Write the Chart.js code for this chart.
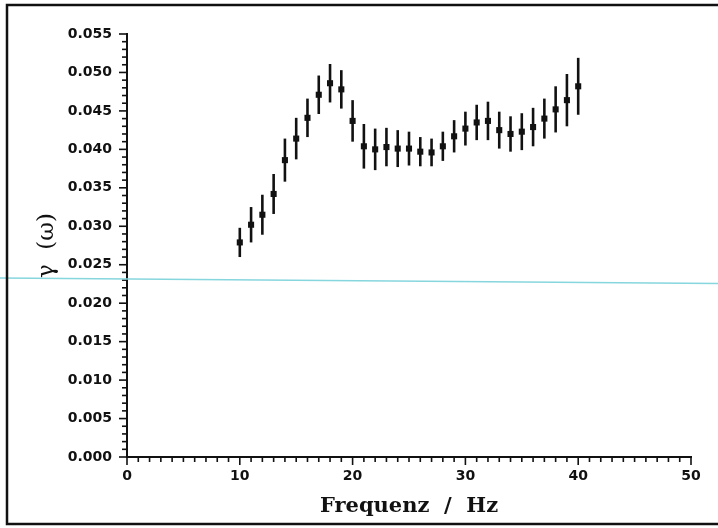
<!DOCTYPE html>
<html>
<head>
<meta charset="utf-8">
<script src="https://cdn.jsdelivr.net/npm/chart.js@4/dist/chart.umd.min.js"></script>
<style>
  html, body { margin: 0; padding: 0; background: #fff; }
  #wrap { width: 718px; height: 528px; }
</style>
</head>
<body>
<div id="wrap"><canvas id="grafico" width="718" height="528"></canvas></div>
<script>
// --- DATOS ---
const frequenz = [10, 11, 12, 13, 14, 15, 16, 17, 18, 19, 20, 21, 22, 23, 24, 25,
                  26, 27, 28, 29, 30, 31, 32, 33, 34, 35, 36, 37, 38, 39, 40];
const gamma = [0.0279, 0.0302, 0.0315, 0.0342, 0.0386, 0.0414, 0.0441, 0.0471,
               0.0486, 0.0478, 0.0437, 0.0404, 0.0400, 0.0403, 0.0401, 0.0401,
               0.0397, 0.0396, 0.0404, 0.0417, 0.0427, 0.0435, 0.0437, 0.0425,
               0.0420, 0.0423, 0.0429, 0.0440, 0.0452, 0.0464, 0.0482];
const fehler = [0.0019, 0.0023, 0.0026, 0.0026, 0.0028, 0.0027, 0.0025, 0.0025,
                0.0025, 0.0025, 0.0027, 0.0029, 0.0027, 0.0025, 0.0024, 0.0022,
                0.0019, 0.0018, 0.0019, 0.0021, 0.0022, 0.0023, 0.0025, 0.0024,
                0.0023, 0.0024, 0.0025, 0.0026, 0.0030, 0.0034, 0.0037];
const xTicks = [0, 10, 20, 30, 40, 50];
const yTicks = ['0.000', '0.005', '0.010', '0.015', '0.020', '0.025', '0.030',
                '0.035', '0.040', '0.045', '0.050', '0.055'];
// cyan line from the scan (value at left and right edge of the page)
const scanLinie = [0.02328, 0.02256];

const tickFont = { family: 'DejaVu Sans', size: 14, weight: 'bold' };

// --- PLUGIN: error bars, minor ticks, frame ---
const dekor = {
    id: 'dekor',
    beforeDraw(chart) {
        const c = chart.ctx;
        c.save();
        c.fillStyle = '#fff';
        c.fillRect(0, 0, chart.width, chart.height);
        c.restore();
    },
    beforeDatasetsDraw(chart) {
        const { ctx, scales: { x, y } } = chart;
        ctx.save();
        ctx.strokeStyle = '#111';
        ctx.lineWidth = 2.6;
        frequenz.forEach((f, i) => {
            const px = x.getPixelForValue(f);
            ctx.beginPath();
            ctx.moveTo(px, y.getPixelForValue(gamma[i] + fehler[i]));
            ctx.lineTo(px, y.getPixelForValue(gamma[i] - fehler[i]));
            ctx.stroke();
        });
        ctx.restore();
    },
    afterDraw(chart) {
        const { ctx, scales: { x, y } } = chart;
        ctx.save();
        ctx.strokeStyle = '#111';
        ctx.lineWidth = 1.6;
        // x ticks, one per Hz
        for (let v = x.min; v <= x.max; v++) {
            const px = x.getPixelForValue(v);
            const len = v % 10 === 0 ? 8 : 5;
            ctx.beginPath();
            ctx.moveTo(px, y.bottom);
            ctx.lineTo(px, y.bottom + len);
            ctx.stroke();
        }
        // y ticks, one per 0.001
        for (let k = 0; k <= Math.round(y.max * 1000); k++) {
            const py = y.getPixelForValue(k / 1000);
            const len = k % 5 === 0 ? 8 : 5;
            ctx.beginPath();
            ctx.moveTo(x.left - len, py);
            ctx.lineTo(x.left, py);
            ctx.stroke();
        }
        // scan line
        ctx.strokeStyle = '#86d6de';
        ctx.lineWidth = 1.5;
        ctx.beginPath();
        ctx.moveTo(0, y.getPixelForValue(scanLinie[0]));
        ctx.lineTo(chart.width, y.getPixelForValue(scanLinie[1]));
        ctx.stroke();
        // frame
        ctx.strokeStyle = '#111';
        ctx.lineWidth = 2.5;
        ctx.strokeRect(7, 5, chart.width + 10, 519);
        ctx.restore();
    }
};

const ctx = document.getElementById('grafico').getContext('2d');
new Chart(ctx, {
    type: 'scatter',
    data: {
        datasets: [{
            data: frequenz.map((f, i) => ({ x: f, y: gamma[i] })),
            pointStyle: 'rect',
            pointRadius: 4.3,
            pointHoverRadius: 4.3,
            backgroundColor: '#111',
            borderColor: '#111',
            borderWidth: 0
        }]
    },
    options: {
        responsive: false,
        animation: false,
        devicePixelRatio: 1,
        layout: { padding: { left: 0, top: 34, right: 27, bottom: 0 } },
        plugins: { legend: { display: false }, tooltip: { enabled: false } },
        scales: {
            x: {
                type: 'linear',
                min: 0,
                max: 50,
                afterFit: s => { s.height = 71; },
                afterBuildTicks: s => { s.ticks = xTicks.map(v => ({ value: v })); },
                grid: { display: false, drawTicks: false },
                border: { display: true, color: '#111', width: 2 },
                ticks: {
                    color: '#111',
                    font: tickFont,
                    padding: 11,
                    maxRotation: 0,
                    autoSkip: false,
                    callback: v => String(v)
                },
                title: {
                    display: true,
                    text: 'Frequenz  /  Hz',
                    color: '#111',
                    font: { family: 'DejaVu Serif', size: 21, weight: 'bold' },
                    padding: { top: 0, bottom: 9 }
                }
            },
            y: {
                type: 'linear',
                min: 0,
                max: 0.055,
                afterFit: s => { s.width = 127; },
                afterBuildTicks: s => { s.ticks = yTicks.map(t => ({ value: parseFloat(t) })); },
                grid: { display: false, drawTicks: false },
                border: { display: true, color: '#111', width: 2 },
                ticks: {
                    color: '#111',
                    font: tickFont,
                    padding: 15,
                    autoSkip: false,
                    callback: (v, i) => yTicks[i]
                },
                title: {
                    display: true,
                    text: 'γ  (ω)',
                    color: '#111',
                    font: { family: 'DejaVu Serif', size: 23 },
                    padding: { top: 33, bottom: 0 }
                }
            }
        }
    },
    plugins: [dekor]
});
</script>
</body>
</html>
